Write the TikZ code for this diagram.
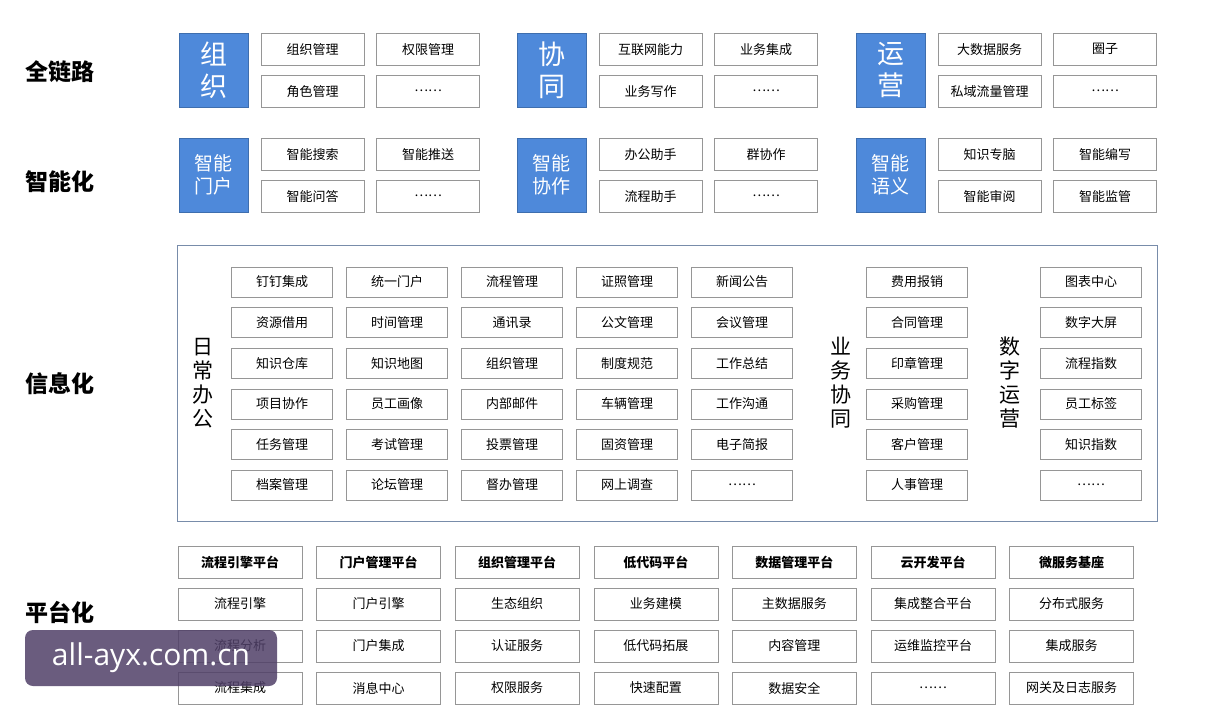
\documentclass[tikz,border=0pt]{standalone}
\usepackage{fontspec}
\setmainfont{Noto Sans CJK SC}
\newfontfamily\latinsans{Open Sans}
\usetikzlibrary{positioning}
\definecolor{tileblue}{RGB}{78,137,218}
\definecolor{boxline}{RGB}{150,150,150}
\definecolor{frameline}{RGB}{120,140,170}
\tikzset{
    x=1pt, y=-1pt,
    cell/.style={draw=boxline, fill=white, minimum width=103pt, minimum height=32pt, inner sep=0pt, font=\fontsize{13}{15}\selectfont},
    tile/.style={draw=tileblue!80!black, fill=tileblue, text=white, minimum width=69pt, minimum height=74pt, inner sep=0pt, align=center},
    layer/.style={font=\fontsize{23}{26}\selectfont\bfseries},
    grid/.style={cell, minimum width=101pt, minimum height=30pt},
    plat/.style={cell, minimum width=124pt, minimum height=32pt},
    vlabel/.style={align=center, font=\fontsize{21}{24}\selectfont},
}
\begin{document}
\begin{tikzpicture}
\useasboundingbox[fill=white] (0,0) rectangle (1215,712);

% layer labels
\node[layer] (lq) at (60,72) {全链路};
\node[layer] (lz) at (60,182) {智能化};
\node[layer] (lx) at (60,384) {信息化};
\node[layer] (lp) at (60,612) {平台化};

% top two layers
\foreach \gx/\gy/\name/\t/\fs/\ls/\a/\b/\c/\d in {
    179/33/g1/{组\\织}/27/32/组织管理/权限管理/角色管理/{\dots\dots},
    517/33/g2/{协\\同}/27/32/互联网能力/业务集成/业务写作/{\dots\dots},
    856/33/g3/{运\\营}/27/32/大数据服务/圈子/私域流量管理/{\dots\dots},
    179/138/h1/{智能\\门户}/19/23/智能搜索/智能推送/智能问答/{\dots\dots},
    517/138/h2/{智能\\协作}/19/23/办公助手/群协作/流程助手/{\dots\dots},
    856/138/h3/{智能\\语义}/19/23/知识专脑/智能编写/智能审阅/智能监管}{
  \node[tile, anchor=north west, font=\fontsize{\fs}{\ls}\selectfont] (\name) at (\gx,\gy) {\t};
  \node[cell, anchor=north west] (\name a) at (\gx+82,\gy) {\a};
  \node[cell, right=12pt of \name a] (\name b) {\b};
  \node[cell, anchor=north west] (\name c) at (\gx+82,\gy+42) {\c};
  \node[cell, right=12pt of \name c] (\name d) {\d};
}

% information layer
\node[draw=frameline, thick, minimum width=980pt, minimum height=276pt, anchor=north west] (frame) at (177,245) {};
\node[vlabel] (daily) at (203,383) {日\\常\\办\\公};
\node[vlabel] (biz) at (841,383) {业\\务\\协\\同};
\node[vlabel] (digi) at (1010,383) {数\\字\\运\\营};

\foreach \row [count=\i from 0] in {
    {钉钉集成,统一门户,流程管理,证照管理,新闻公告,费用报销,图表中心},
    {资源借用,时间管理,通讯录,公文管理,会议管理,合同管理,数字大屏},
    {知识仓库,知识地图,组织管理,制度规范,工作总结,印章管理,流程指数},
    {项目协作,员工画像,内部邮件,车辆管理,工作沟通,采购管理,员工标签},
    {任务管理,考试管理,投票管理,固资管理,电子简报,客户管理,知识指数},
    {档案管理,论坛管理,督办管理,网上调查,\dots\dots,人事管理,\dots\dots}}{
  \foreach \txt [count=\j from 0] in \row {
    \pgfmathsetmacro{\cx}{\j<5 ? 282+115*\j : (\j==5 ? 917 : 1091)}
    \node[grid] (m\i\j) at (\cx,282+40.6*\i) {\txt};
  }
}

% platform layer
\foreach \col [count=\j from 0] in {
    {流程引擎平台,流程引擎,流程分析,流程集成},
    {门户管理平台,门户引擎,门户集成,消息中心},
    {组织管理平台,生态组织,认证服务,权限服务},
    {低代码平台,业务建模,低代码拓展,快速配置},
    {数据管理平台,主数据服务,内容管理,数据安全},
    {云开发平台,集成整合平台,运维监控平台,\dots\dots},
    {微服务基座,分布式服务,集成服务,网关及日志服务}}{
  \foreach \txt [count=\i from 0] in \col {
    \ifnum\i=0
      \node[plat, font=\fontsize{13}{15}\selectfont\bfseries] (p\i\j) at (240+138.6*\j,562) {\txt};
    \else
      \node[plat] (p\i\j) at (240+138.6*\j,562+42*\i) {\txt};
    \fi
  }
}

% watermark
\node[fill={rgb,255:red,80;green,64;blue,104}, fill opacity=0.85, text opacity=1, text=white, rounded corners=8pt,
      minimum width=252pt, minimum height=56pt, font=\latinsans\fontsize{30}{33}\selectfont] (mark) at (151,658) {all-ayx.com.cn};
\end{tikzpicture}
\end{document}
